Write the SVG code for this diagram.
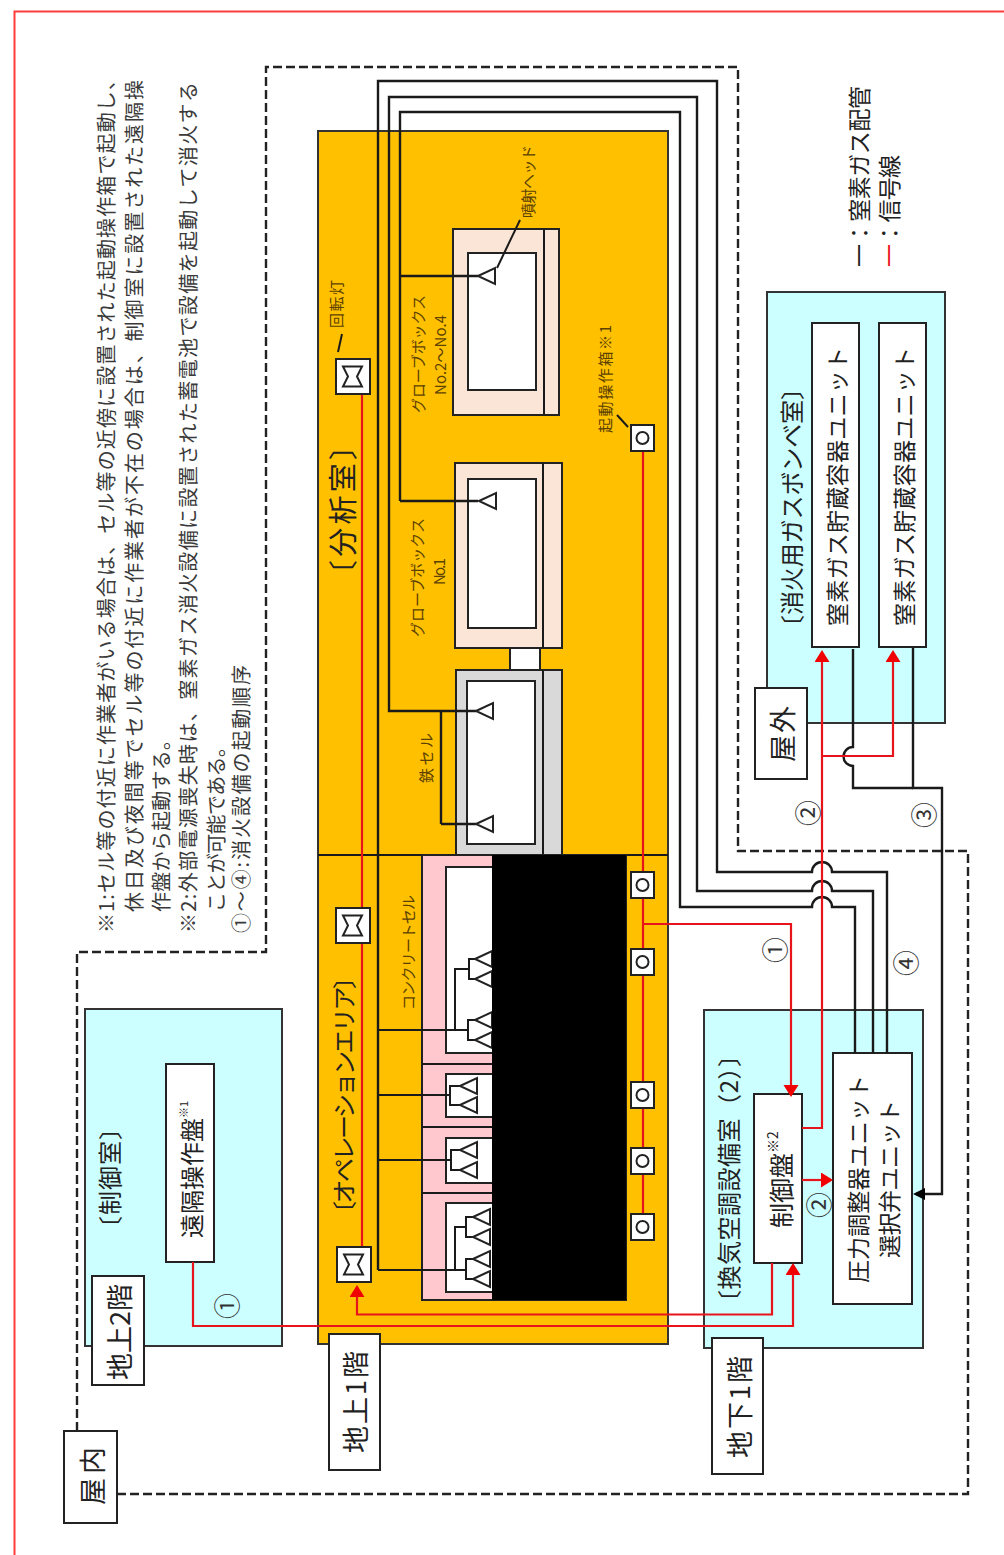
<svg xmlns="http://www.w3.org/2000/svg" xmlns:xlink="http://www.w3.org/1999/xlink" width="1004" height="1555" viewBox="0 0 1004 1555">
<style>
text{font-family:"Noto Sans CJK JP","Noto Sans",sans-serif;fill:#222;dominant-baseline:central}
.note{font-size:20px;fill:#3a3a3a}
.lab{font-size:15px;fill:#5c4200}
.room{font-size:24px}
.big{font-size:29px}
.unit{font-size:23px}
.floor{font-size:27px}
.num{font-size:26px;fill:#333}
.leg{font-size:23px}
.b{stroke:#222;stroke-width:2;fill:#fff}
.orange{fill:#FFC000}
.cyan{fill:#CCFFFF;stroke:#333;stroke-width:2}
.gb{fill:#FBE5D6;stroke:#222;stroke-width:2}
.gray{fill:#D9D9D9;stroke:#222;stroke-width:2}
.pink{fill:#FFC7CE;stroke:#222;stroke-width:2}
.l{fill:none;stroke:#1a1a1a;stroke-width:2}
.p{fill:none;stroke:#1a1a1a;stroke-width:2.4}
.r{fill:none;stroke:#e8141c;stroke-width:2.2}
.dash{fill:none;stroke:#222;stroke-width:2.400;stroke-dasharray:9 4}
.nz{fill:none;stroke:#222;stroke-width:2}
</style>
<defs>
<marker id="ra" markerUnits="userSpaceOnUse" markerWidth="14" markerHeight="16" refX="9" refY="7.5" orient="auto"><path d="M0,0 L12,7.5 L0,15 Z" fill="#f00000"/></marker>
<marker id="ka" markerUnits="userSpaceOnUse" markerWidth="14" markerHeight="14" refX="9" refY="6" orient="auto"><path d="M0,0 L12,6 L0,12 Z" fill="#000"/></marker>
<path id="nz" class="nz" d="M0,0 L17,-8 V8 Z"/>
<g id="lamp"><rect class="b" x="0" y="0" width="34" height="35"/><path class="nz" d="M7,7.500 H26 L21,17.500 L26,27.500 H7 L12,17.500 Z"/></g>
<g id="sw"><rect class="b" x="0" y="0" width="23" height="26"/><circle cx="11.500" cy="13" r="6" fill="none" stroke="#222" stroke-width="2"/></g>
</defs>
<rect width="1004" height="1555" fill="#fff"/>
<path d="M14.500,1555 V11.500 H1004" fill="none" stroke="#ff3b3b" stroke-width="2"/>
<path id="indoor-boundary" class="dash" d="M77,1431 V952 H266 V67 H738 V851 H968 V1494 H117"/>

<g id="notes">
<text class="note" transform="translate(105,933) rotate(-90)" textLength="863">※1:セル等の付近に作業者がいる場合は、セル等の近傍に設置された起動操作箱で起動し、</text>
<text class="note" transform="translate(133,912) rotate(-90)" textLength="832">休日及び夜間等でセル等の付近に作業者が不在の場合は、制御室に設置された遠隔操</text>
<text class="note" transform="translate(160,912) rotate(-90)" textLength="182">作盤から起動する。</text>
<text class="note" transform="translate(187,933) rotate(-90)" textLength="851">※2:外部電源喪失時は、窒素ガス消火設備に設置された蓄電池で設備を起動して消火する</text>
<text class="note" transform="translate(215,912) rotate(-90)" textLength="175">ことが可能である。</text>
<text class="note" transform="translate(240,933) rotate(-90)" textLength="268">①～④:消火設備の起動順序</text>
</g>

<g id="legend">
<text class="leg" transform="translate(858,267) rotate(-90)" textLength="181">一：窒素ガス配管</text>
<text class="leg" transform="translate(888,267) rotate(-90)" textLength="112"><tspan fill="#e8141c">一</tspan>：信号線</text>
</g>

<g id="control-room">
<rect class="cyan" x="85" y="1009" width="197" height="337"/>
<text class="room" transform="translate(108,1240) rotate(-90)" textLength="124">〔制御室〕</text>
</g>
<g id="remote-panel">
<rect class="b" x="166" y="1064" width="48" height="198"/>
<text transform="translate(190,1238) rotate(-90)" font-size="24" >遠隔操作盤<tspan font-size="11" dy="-7">※1</tspan></text>
</g>

<g id="analysis-room">
<rect class="orange" x="318" y="131" width="350" height="1213" stroke="#333" stroke-width="2"/>
<line class="l" x1="318" y1="855" x2="668" y2="855"/>
<text class="big" transform="translate(341,589) rotate(-90)" textLength="158">〔分析室〕</text>
<text class="room" transform="translate(342,1225) rotate(-90)" textLength="260">〔オペレーションエリア〕</text>
</g>

<g id="glovebox-2-4">
<rect class="gb" x="453" y="229" width="106" height="186"/>
<line class="l" x1="544" y1="229" x2="544" y2="415"/>
<rect class="b" x="468" y="253" width="68" height="137"/>
<text class="lab" transform="translate(417,413) rotate(-90)" textLength="118">グローブボックス</text>
<text class="lab" transform="translate(439,395) rotate(-90)" textLength="80">No.2～No.4</text>
</g>
<g id="glovebox-1">
<rect class="gb" x="455" y="463" width="107" height="185"/>
<line class="l" x1="543" y1="463" x2="543" y2="648"/>
<rect class="b" x="468" y="479" width="68" height="149"/>
<text class="lab" transform="translate(416,637) rotate(-90)" textLength="119">グローブボックス</text>
<text class="lab" transform="translate(438,585) rotate(-90)" textLength="27">No.1</text>
</g>
<rect id="passage" class="b" x="510" y="648" width="30" height="22"/>
<g id="iron-cell">
<rect class="gray" x="456" y="670" width="106" height="185"/>
<line class="l" x1="543" y1="670" x2="543" y2="855"/>
<rect class="b" x="467" y="681" width="68" height="163"/>
<text class="lab" transform="translate(425,783) rotate(-90)" textLength="50">鉄セル</text>
</g>
<g id="concrete-cell">
<rect class="pink" x="422" y="855" width="204" height="445"/>
<line class="l" x1="422" y1="1064" x2="626" y2="1064"/>
<line class="l" x1="422" y1="1127" x2="626" y2="1127"/>
<line class="l" x1="422" y1="1193" x2="626" y2="1193"/>
<rect class="b" x="446" y="867" width="100" height="186"/>
<rect class="b" x="446" y="1074" width="100" height="43"/>
<rect class="b" x="446" y="1138" width="100" height="45"/>
<rect class="b" x="446" y="1203" width="100" height="89"/>
<text class="lab" transform="translate(407,1010) rotate(-90)" textLength="115">コンクリートセル</text>
</g>

<g id="hvac-room">
<rect class="cyan" x="704" y="1010" width="219" height="338"/>
<text class="room" transform="translate(727,1314) rotate(-90)" textLength="271">〔換気空調設備室（2）〕</text>
</g>
<g id="control-panel">
<rect class="b" x="754" y="1094" width="48" height="169"/>
<text transform="translate(780,1228) rotate(-90)" font-size="25">制御盤<tspan font-size="14" dy="-8">※2</tspan></text>
</g>
<g id="selector-unit">
<rect class="b" x="833" y="1053" width="79" height="251"/>
<text class="unit" transform="translate(857,1283) rotate(-90)" textLength="208">圧力調整器ユニット</text>
<text class="unit" transform="translate(888,1258) rotate(-90)" textLength="158">選択弁ユニット</text>
</g>

<g id="gas-room">
<rect class="cyan" x="767" y="292" width="178" height="431"/>
<text class="room" transform="translate(790,639) rotate(-90)" textLength="263">〔消火用ガスボンベ室〕</text>
</g>
<g id="n2-unit-1">
<rect class="b" x="812" y="323" width="47" height="324"/>
<text class="unit" transform="translate(836,626) rotate(-90)" textLength="279">窒素ガス貯蔵容器ユニット</text>
</g>
<g id="n2-unit-2">
<rect class="b" x="879" y="323" width="47" height="324"/>
<text class="unit" transform="translate(903,626) rotate(-90)" textLength="279">窒素ガス貯蔵容器ユニット</text>
</g>

<g id="connectors">
<path class="p" d="M378,1270 V81 H717 V872 H812 A10,10 0 0 1 832,872 H887 V1053"/>
<path class="p" d="M441,824 V711 M476,824 H441 M476,711 H389 V97 H697 V891 H812 A10,10 0 0 1 832,891 H873 V1053"/>
<path class="p" d="M478,501 H400 M478,276 H400 M400,501 V112 H680 V907 H812 A10,10 0 0 1 832,907 H855 V1053"/>
<path class="l" d="M378,1030 H468 M455,1030 V969 H469 M475,959 H469 V979 H475 M475,1020 H468 V1040 H475"/>
<path class="l" d="M378,1095 H450 M460,1086 H450 V1105 H460"/>
<path class="l" d="M378,1160 H451 M460,1150 H451 V1170 H460"/>
<path class="l" d="M378,1270 H466 M455,1270 V1227 H466 M473,1217 H466 V1237 H473 M473,1259 H466 V1279 H473"/>
<use xlink:href="#nz" href="#nz" x="478" y="276"/>
<use xlink:href="#nz" href="#nz" x="479" y="501"/>
<use xlink:href="#nz" href="#nz" x="476" y="711"/>
<use xlink:href="#nz" href="#nz" x="476" y="824"/>
<use xlink:href="#nz" href="#nz" x="475" y="959"/>
<use xlink:href="#nz" href="#nz" x="475" y="979"/>
<use xlink:href="#nz" href="#nz" x="475" y="1020"/>
<use xlink:href="#nz" href="#nz" x="475" y="1040"/>
<use xlink:href="#nz" href="#nz" x="460" y="1086"/>
<use xlink:href="#nz" href="#nz" x="460" y="1105"/>
<use xlink:href="#nz" href="#nz" x="460" y="1150"/>
<use xlink:href="#nz" href="#nz" x="460" y="1170"/>
<use xlink:href="#nz" href="#nz" x="473" y="1217"/>
<use xlink:href="#nz" href="#nz" x="473" y="1237"/>
<use xlink:href="#nz" href="#nz" x="473" y="1259"/>
<use xlink:href="#nz" href="#nz" x="473" y="1279"/>
<path class="l" d="M497,268 L520,220"/>
<path class="l" d="M338,352 L342,334"/>
<path class="l" d="M628,427 L617,415"/>
<path class="p" d="M853,649 V747 A9.500,9.500 0 0 0 853,766 V788 H913"/>
<path class="p" d="M913,648 V788 H942 V1194 H916" marker-end="url(#ka)"/>
<path class="r" d="M362,394 V1247"/>
<path class="r" d="M643,451 V1214"/>
<path class="r" d="M643,924 H791 V1094" marker-end="url(#ra)"/>
<path class="r" d="M193,1262 V1326 H793 V1266" marker-end="url(#ra)"/>
<path class="r" d="M772,1263 V1314.500 H357 V1288" marker-end="url(#ra)"/>
<path class="r" d="M802,1128 H822 V653" marker-end="url(#ra)"/>
<path class="r" d="M822,756 H893 V653" marker-end="url(#ra)"/>
<path class="r" d="M802,1180 H830" marker-end="url(#ra)"/>
</g>

<rect id="masked-area" x="492" y="855" width="134" height="445" fill="#000"/>
<g id="lamps">
<use xlink:href="#lamp" href="#lamp" x="336" y="359"/>
<use xlink:href="#lamp" href="#lamp" x="336" y="908"/>
<use xlink:href="#lamp" href="#lamp" x="337" y="1247"/>
</g>
<g id="switches">
<use xlink:href="#sw" href="#sw" x="631" y="425"/>
<use xlink:href="#sw" href="#sw" x="631" y="872"/>
<use xlink:href="#sw" href="#sw" x="631" y="949"/>
<use xlink:href="#sw" href="#sw" x="631" y="1082"/>
<use xlink:href="#sw" href="#sw" x="631" y="1148"/>
<use xlink:href="#sw" href="#sw" x="631" y="1214"/>
</g>

<g id="labels">
<text class="lab" transform="translate(335,328) rotate(-90)" textLength="48">回転灯</text>
<text class="lab" transform="translate(527,218) rotate(-90)" textLength="73">噴射ヘッド</text>
<text class="lab" transform="translate(604,433) rotate(-90)" textLength="108">起動操作箱※1</text>
</g>

<g id="sequence-numbers">
<text class="num" text-anchor="middle" transform="translate(225,1306) rotate(-90)">①</text>
<text class="num" text-anchor="middle" transform="translate(773,950) rotate(-90)">①</text>
<text class="num" text-anchor="middle" transform="translate(806,813) rotate(-90)">②</text>
<text class="num" text-anchor="middle" transform="translate(817,1205) rotate(-90)">②</text>
<text class="num" text-anchor="middle" transform="translate(922,815) rotate(-90)">③</text>
<text class="num" text-anchor="middle" transform="translate(904,963) rotate(-90)">④</text>
</g>

<g id="floor-indoor"><rect class="b" x="64" y="1431" width="53" height="92"/><text class="floor" transform="translate(91,1505) rotate(-90)" textLength="58">屋内</text></g>
<g id="floor-2f"><rect class="b" x="92" y="1276" width="52" height="109"/><text class="floor" transform="translate(118,1380) rotate(-90)" textLength="96">地上2階</text></g>
<g id="floor-1f"><rect class="b" x="329" y="1334" width="51" height="136"/><text class="floor" transform="translate(354,1453) rotate(-90)" textLength="102">地上1階</text></g>
<g id="floor-b1"><rect class="b" x="712" y="1338" width="51" height="136"/><text class="floor" transform="translate(738,1458) rotate(-90)" textLength="102">地下1階</text></g>
<g id="floor-outdoor"><rect class="b" x="755" y="688" width="52" height="91"/><text class="floor" transform="translate(781,762) rotate(-90)" textLength="56">屋外</text></g>
</svg>
